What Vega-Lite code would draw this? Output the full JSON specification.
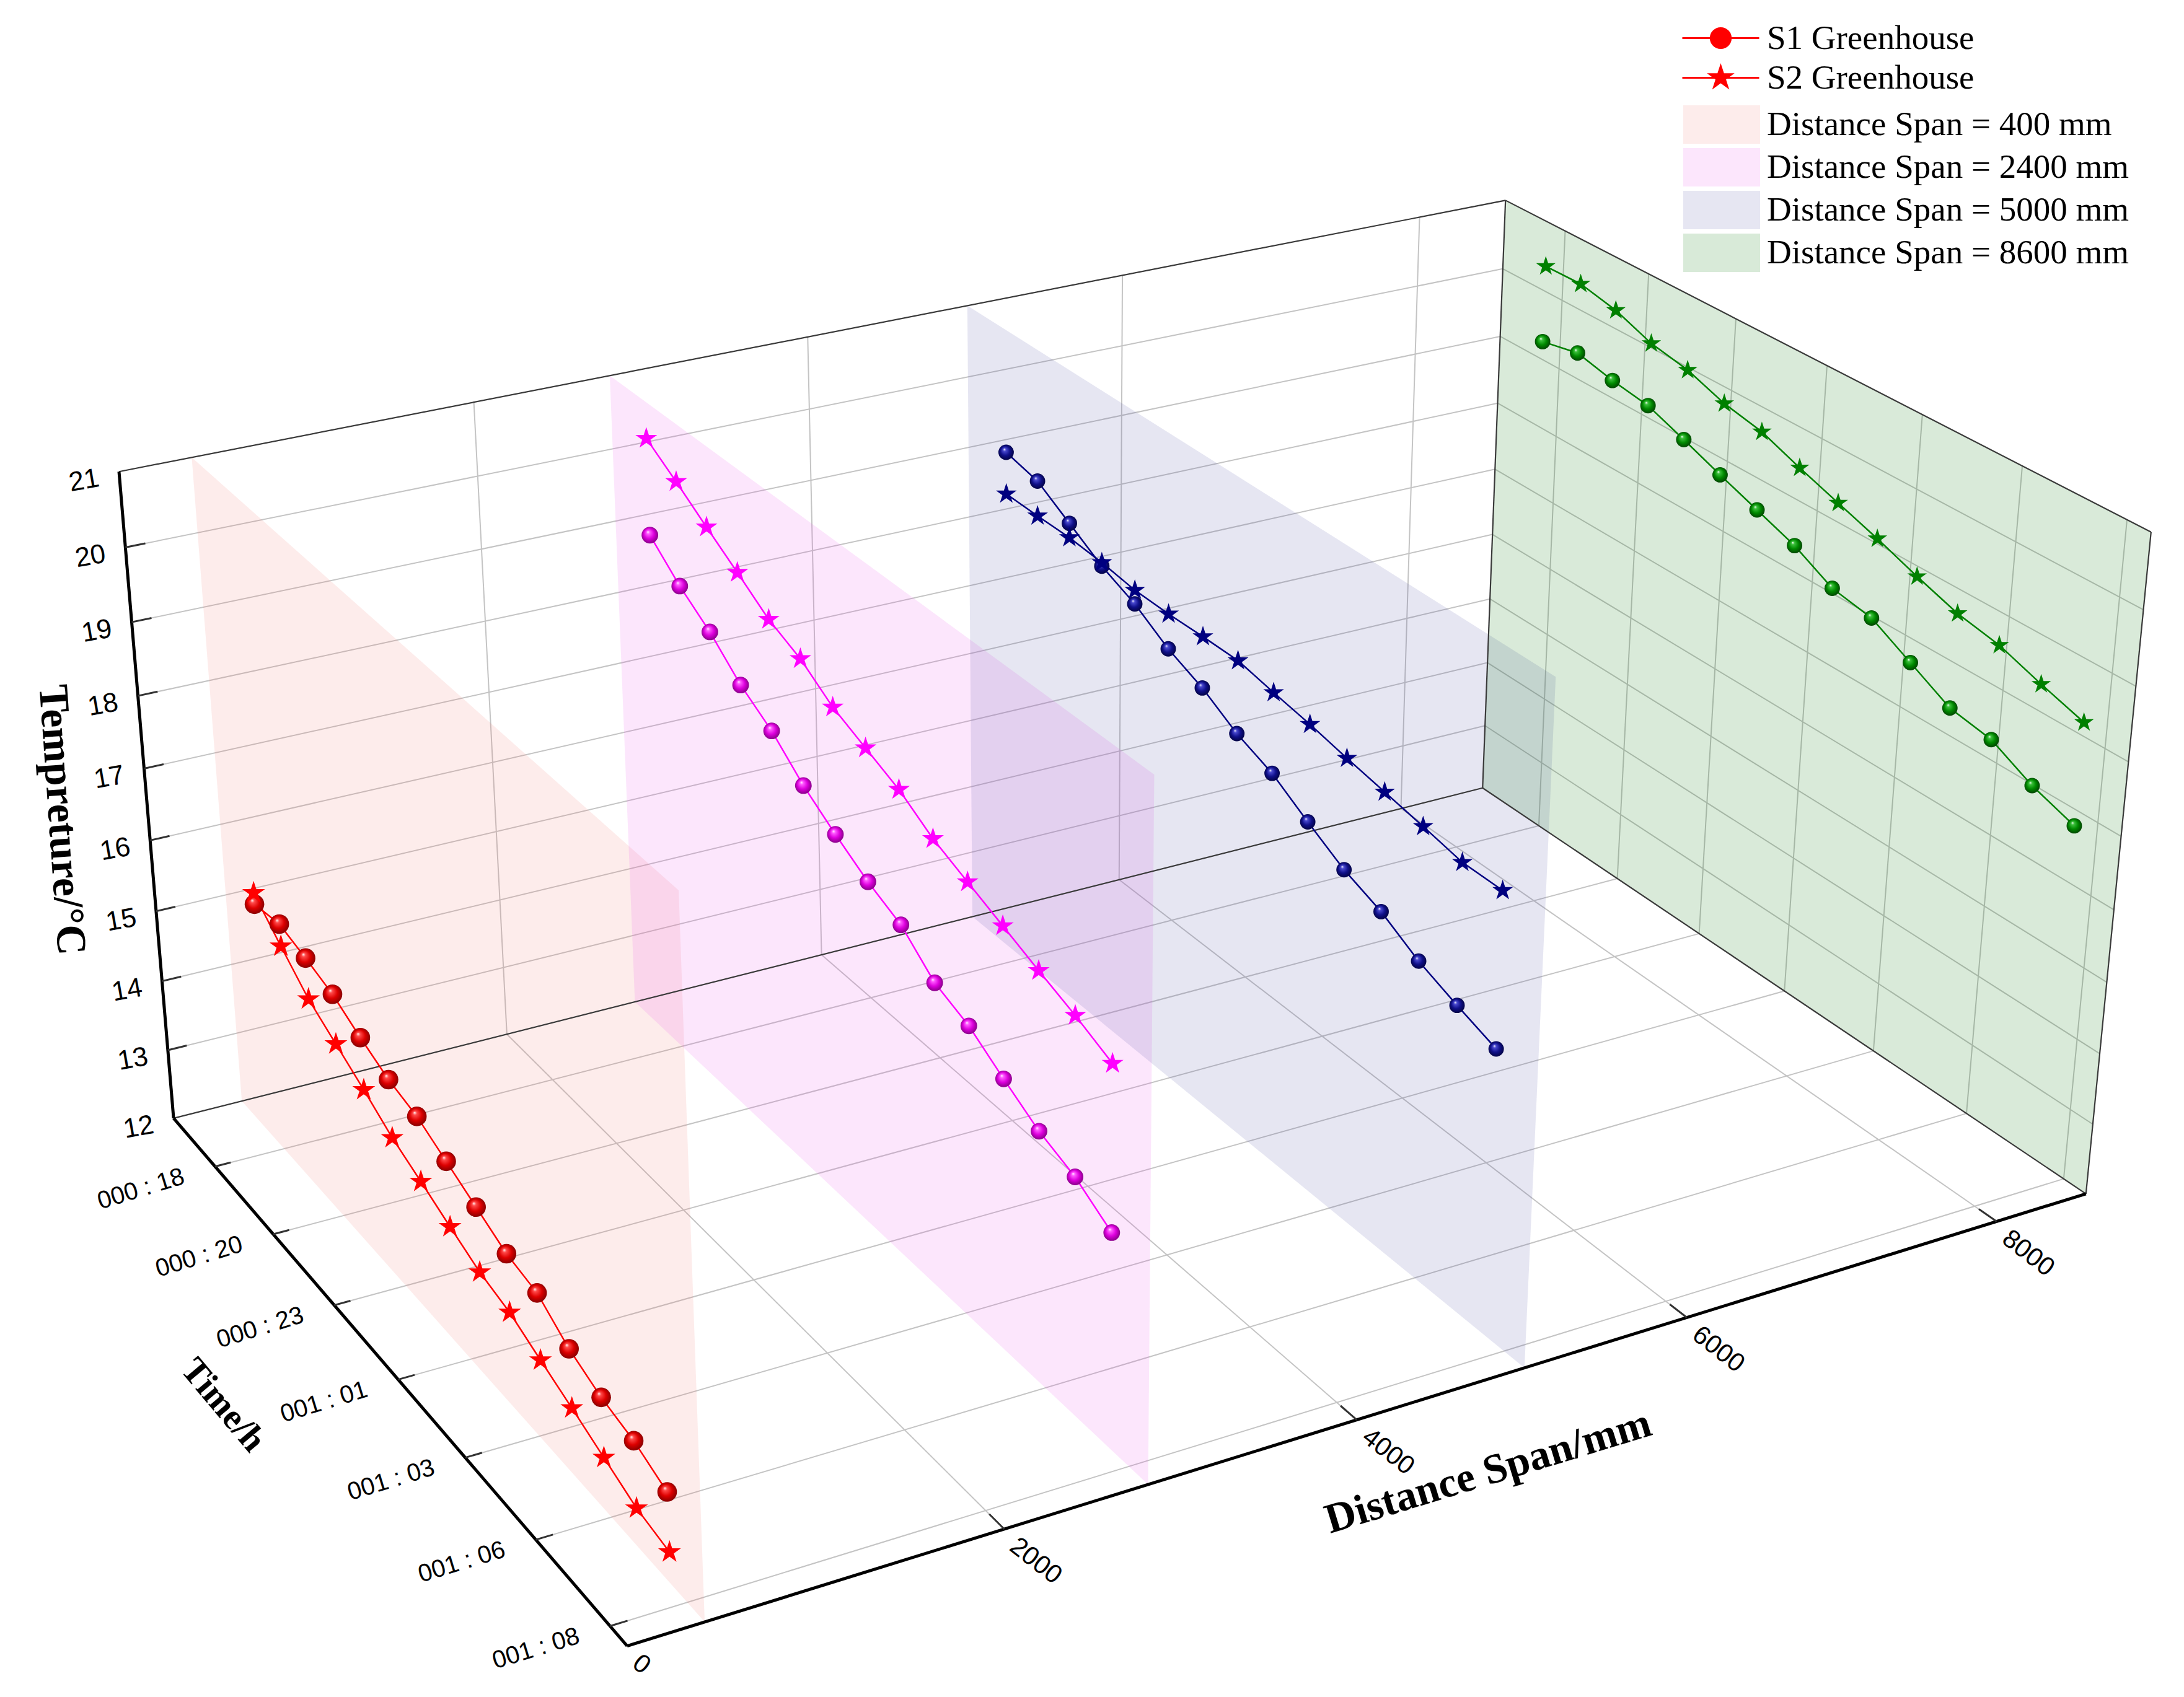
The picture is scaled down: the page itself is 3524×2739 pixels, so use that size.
{
  "$schema": "https://vega.github.io/schema/vega-lite/v6.json",
  "width": 3524,
  "height": 2739,
  "autosize": {"type": "fit", "contains": "padding"},
  "padding": 0,
  "background": "#ffffff",
  "config": {"view": {"stroke": null}},
  "data": {
    "values": [
      {"k":"g","d":0,"t":16.77,"T":13,"d2":8600,"t2":16.77,"T2":13},
      {"k":"g","d":0,"t":16.77,"T":14,"d2":8600,"t2":16.77,"T2":14},
      {"k":"g","d":0,"t":16.77,"T":15,"d2":8600,"t2":16.77,"T2":15},
      {"k":"g","d":0,"t":16.77,"T":16,"d2":8600,"t2":16.77,"T2":16},
      {"k":"g","d":0,"t":16.77,"T":17,"d2":8600,"t2":16.77,"T2":17},
      {"k":"g","d":0,"t":16.77,"T":18,"d2":8600,"t2":16.77,"T2":18},
      {"k":"g","d":0,"t":16.77,"T":19,"d2":8600,"t2":16.77,"T2":19},
      {"k":"g","d":0,"t":16.77,"T":20,"d2":8600,"t2":16.77,"T2":20},
      {"k":"g","d":2000,"t":16.77,"T":12,"d2":2000,"t2":16.77,"T2":21},
      {"k":"g","d":4000,"t":16.77,"T":12,"d2":4000,"t2":16.77,"T2":21},
      {"k":"g","d":6000,"t":16.77,"T":12,"d2":6000,"t2":16.77,"T2":21},
      {"k":"g","d":8000,"t":16.77,"T":12,"d2":8000,"t2":16.77,"T2":21},
      {"k":"g","d":8600,"t":16.77,"T":13,"d2":8600,"t2":33.02,"T2":13},
      {"k":"g","d":8600,"t":16.77,"T":14,"d2":8600,"t2":33.02,"T2":14},
      {"k":"g","d":8600,"t":16.77,"T":15,"d2":8600,"t2":33.02,"T2":15},
      {"k":"g","d":8600,"t":16.77,"T":16,"d2":8600,"t2":33.02,"T2":16},
      {"k":"g","d":8600,"t":16.77,"T":17,"d2":8600,"t2":33.02,"T2":17},
      {"k":"g","d":8600,"t":16.77,"T":18,"d2":8600,"t2":33.02,"T2":18},
      {"k":"g","d":8600,"t":16.77,"T":19,"d2":8600,"t2":33.02,"T2":19},
      {"k":"g","d":8600,"t":16.77,"T":20,"d2":8600,"t2":33.02,"T2":20},
      {"k":"g","d":8600,"t":18.5,"T":12,"d2":8600,"t2":18.5,"T2":21},
      {"k":"g","d":8600,"t":20.833,"T":12,"d2":8600,"t2":20.833,"T2":21},
      {"k":"g","d":8600,"t":23.167,"T":12,"d2":8600,"t2":23.167,"T2":21},
      {"k":"g","d":8600,"t":25.5,"T":12,"d2":8600,"t2":25.5,"T2":21},
      {"k":"g","d":8600,"t":27.833,"T":12,"d2":8600,"t2":27.833,"T2":21},
      {"k":"g","d":8600,"t":30.167,"T":12,"d2":8600,"t2":30.167,"T2":21},
      {"k":"g","d":8600,"t":32.5,"T":12,"d2":8600,"t2":32.5,"T2":21},
      {"k":"g","d":0,"t":18.5,"T":12,"d2":8600,"t2":18.5,"T2":12},
      {"k":"g","d":0,"t":20.833,"T":12,"d2":8600,"t2":20.833,"T2":12},
      {"k":"g","d":0,"t":23.167,"T":12,"d2":8600,"t2":23.167,"T2":12},
      {"k":"g","d":0,"t":25.5,"T":12,"d2":8600,"t2":25.5,"T2":12},
      {"k":"g","d":0,"t":27.833,"T":12,"d2":8600,"t2":27.833,"T2":12},
      {"k":"g","d":0,"t":30.167,"T":12,"d2":8600,"t2":30.167,"T2":12},
      {"k":"g","d":0,"t":32.5,"T":12,"d2":8600,"t2":32.5,"T2":12},
      {"k":"g","d":2000,"t":16.77,"T":12,"d2":2000,"t2":33.02,"T2":12},
      {"k":"g","d":4000,"t":16.77,"T":12,"d2":4000,"t2":33.02,"T2":12},
      {"k":"g","d":6000,"t":16.77,"T":12,"d2":6000,"t2":33.02,"T2":12},
      {"k":"g","d":8000,"t":16.77,"T":12,"d2":8000,"t2":33.02,"T2":12},

      {"k":"e","d":0,"t":16.77,"T":21,"d2":8600,"t2":16.77,"T2":21},
      {"k":"e","d":0,"t":16.77,"T":12,"d2":8600,"t2":16.77,"T2":12},
      {"k":"e","d":8600,"t":16.77,"T":12,"d2":8600,"t2":16.77,"T2":21},
      {"k":"e","d":8600,"t":16.77,"T":21,"d2":8600,"t2":33.02,"T2":21},
      {"k":"e","d":8600,"t":16.77,"T":12,"d2":8600,"t2":33.02,"T2":12},
      {"k":"e","d":8600,"t":33.02,"T":12,"d2":8600,"t2":33.02,"T2":21},

      {"k":"a","d":0,"t":16.77,"T":12,"d2":0,"t2":16.77,"T2":21},
      {"k":"a","d":0,"t":16.77,"T":12,"d2":0,"t2":33.02,"T2":12},
      {"k":"a","d":0,"t":33.02,"T":12,"d2":8600,"t2":33.02,"T2":12},

      {"k":"tk","d":0,"t":16.77,"T":13,"d2":110,"t2":16.77,"T2":13},
      {"k":"tk","d":0,"t":16.77,"T":14,"d2":110,"t2":16.77,"T2":14},
      {"k":"tk","d":0,"t":16.77,"T":15,"d2":110,"t2":16.77,"T2":15},
      {"k":"tk","d":0,"t":16.77,"T":16,"d2":110,"t2":16.77,"T2":16},
      {"k":"tk","d":0,"t":16.77,"T":17,"d2":110,"t2":16.77,"T2":17},
      {"k":"tk","d":0,"t":16.77,"T":18,"d2":110,"t2":16.77,"T2":18},
      {"k":"tk","d":0,"t":16.77,"T":19,"d2":110,"t2":16.77,"T2":19},
      {"k":"tk","d":0,"t":16.77,"T":20,"d2":110,"t2":16.77,"T2":20},
      {"k":"tk","d":0,"t":18.5,"T":12,"d2":90,"t2":18.5,"T2":12},
      {"k":"tk","d":0,"t":20.833,"T":12,"d2":90,"t2":20.833,"T2":12},
      {"k":"tk","d":0,"t":23.167,"T":12,"d2":90,"t2":23.167,"T2":12},
      {"k":"tk","d":0,"t":25.5,"T":12,"d2":90,"t2":25.5,"T2":12},
      {"k":"tk","d":0,"t":27.833,"T":12,"d2":90,"t2":27.833,"T2":12},
      {"k":"tk","d":0,"t":30.167,"T":12,"d2":90,"t2":30.167,"T2":12},
      {"k":"tk","d":0,"t":32.5,"T":12,"d2":90,"t2":32.5,"T2":12},
      {"k":"tk","d":2000,"t":33.02,"T":12,"d2":2000,"t2":32.6,"T2":12},
      {"k":"tk","d":4000,"t":33.02,"T":12,"d2":4000,"t2":32.6,"T2":12},
      {"k":"tk","d":6000,"t":33.02,"T":12,"d2":6000,"t2":32.6,"T2":12},
      {"k":"tk","d":8000,"t":33.02,"T":12,"d2":8000,"t2":32.6,"T2":12},

      {"k":"p","sp":"400","d":400,"t":16.77,"T":12,"o":1},
      {"k":"p","sp":"400","d":400,"t":33.02,"T":12,"o":2},
      {"k":"p","sp":"400","d":400,"t":33.02,"T":21,"o":3},
      {"k":"p","sp":"400","d":400,"t":16.77,"T":21,"o":4},
      {"k":"p","sp":"2400","d":2800,"t":16.77,"T":12,"o":1},
      {"k":"p","sp":"2400","d":2800,"t":33.02,"T":12,"o":2},
      {"k":"p","sp":"2400","d":2800,"t":33.02,"T":21,"o":3},
      {"k":"p","sp":"2400","d":2800,"t":16.77,"T":21,"o":4},
      {"k":"p","sp":"5000","d":5000,"t":16.77,"T":12,"o":1},
      {"k":"p","sp":"5000","d":5000,"t":33.02,"T":12,"o":2},
      {"k":"p","sp":"5000","d":5000,"t":33.02,"T":21,"o":3},
      {"k":"p","sp":"5000","d":5000,"t":16.77,"T":21,"o":4},
      {"k":"p","sp":"8600","d":8600,"t":16.77,"T":12,"o":1},
      {"k":"p","sp":"8600","d":8600,"t":33.02,"T":12,"o":2},
      {"k":"p","sp":"8600","d":8600,"t":33.02,"T":21,"o":3},
      {"k":"p","sp":"8600","d":8600,"t":16.77,"T":21,"o":4},

      {"k":"s","sp":"400","g":"S1","d":400,"t":18,"T":15.32},
      {"k":"s","sp":"400","g":"S1","d":400,"t":19,"T":15.41},
      {"k":"s","sp":"400","g":"S1","d":400,"t":20,"T":15.31},
      {"k":"s","sp":"400","g":"S1","d":400,"t":21,"T":15.19},
      {"k":"s","sp":"400","g":"S1","d":400,"t":22,"T":14.98},
      {"k":"s","sp":"400","g":"S1","d":400,"t":23,"T":14.80},
      {"k":"s","sp":"400","g":"S1","d":400,"t":24,"T":14.70},
      {"k":"s","sp":"400","g":"S1","d":400,"t":25,"T":14.50},
      {"k":"s","sp":"400","g":"S1","d":400,"t":26,"T":14.30},
      {"k":"s","sp":"400","g":"S1","d":400,"t":27,"T":14.10},
      {"k":"s","sp":"400","g":"S1","d":400,"t":28,"T":14.01},
      {"k":"s","sp":"400","g":"S1","d":400,"t":29,"T":13.71},
      {"k":"s","sp":"400","g":"S1","d":400,"t":30,"T":13.52},
      {"k":"s","sp":"400","g":"S1","d":400,"t":31,"T":13.41},
      {"k":"s","sp":"400","g":"S1","d":400,"t":32,"T":13.21},
      {"k":"s","sp":"400","g":"S2","d":400,"t":18,"T":15.48},
      {"k":"s","sp":"400","g":"S2","d":400,"t":19,"T":15.10},
      {"k":"s","sp":"400","g":"S2","d":400,"t":20,"T":14.74},
      {"k":"s","sp":"400","g":"S2","d":400,"t":21,"T":14.50},
      {"k":"s","sp":"400","g":"S2","d":400,"t":22,"T":14.26},
      {"k":"s","sp":"400","g":"S2","d":400,"t":23,"T":14.00},
      {"k":"s","sp":"400","g":"S2","d":400,"t":24,"T":13.81},
      {"k":"s","sp":"400","g":"S2","d":400,"t":25,"T":13.61},
      {"k":"s","sp":"400","g":"S2","d":400,"t":26,"T":13.42},
      {"k":"s","sp":"400","g":"S2","d":400,"t":27,"T":13.31},
      {"k":"s","sp":"400","g":"S2","d":400,"t":28,"T":13.11},
      {"k":"s","sp":"400","g":"S2","d":400,"t":29,"T":12.92},
      {"k":"s","sp":"400","g":"S2","d":400,"t":30,"T":12.72},
      {"k":"s","sp":"400","g":"S2","d":400,"t":31,"T":12.52},
      {"k":"s","sp":"400","g":"S2","d":400,"t":32,"T":12.42},

      {"k":"s","sp":"2400","g":"S1","d":2800,"t":18,"T":19.18},
      {"k":"s","sp":"2400","g":"S1","d":2800,"t":19,"T":18.79},
      {"k":"s","sp":"2400","g":"S1","d":2800,"t":20,"T":18.48},
      {"k":"s","sp":"2400","g":"S1","d":2800,"t":21,"T":18.08},
      {"k":"s","sp":"2400","g":"S1","d":2800,"t":22,"T":17.79},
      {"k":"s","sp":"2400","g":"S1","d":2800,"t":23,"T":17.39},
      {"k":"s","sp":"2400","g":"S1","d":2800,"t":24,"T":17.08},
      {"k":"s","sp":"2400","g":"S1","d":2800,"t":25,"T":16.80},
      {"k":"s","sp":"2400","g":"S1","d":2800,"t":26,"T":16.59},
      {"k":"s","sp":"2400","g":"S1","d":2800,"t":27,"T":16.19},
      {"k":"s","sp":"2400","g":"S1","d":2800,"t":28,"T":16.00},
      {"k":"s","sp":"2400","g":"S1","d":2800,"t":29,"T":15.69},
      {"k":"s","sp":"2400","g":"S1","d":2800,"t":30,"T":15.40},
      {"k":"s","sp":"2400","g":"S1","d":2800,"t":31,"T":15.21},
      {"k":"s","sp":"2400","g":"S1","d":2800,"t":32,"T":14.90},
      {"k":"s","sp":"2400","g":"S2","d":2800,"t":18,"T":20.50},
      {"k":"s","sp":"2400","g":"S2","d":2800,"t":19,"T":20.21},
      {"k":"s","sp":"2400","g":"S2","d":2800,"t":20,"T":19.90},
      {"k":"s","sp":"2400","g":"S2","d":2800,"t":21,"T":19.60},
      {"k":"s","sp":"2400","g":"S2","d":2800,"t":22,"T":19.29},
      {"k":"s","sp":"2400","g":"S2","d":2800,"t":23,"T":19.09},
      {"k":"s","sp":"2400","g":"S2","d":2800,"t":24,"T":18.78},
      {"k":"s","sp":"2400","g":"S2","d":2800,"t":25,"T":18.58},
      {"k":"s","sp":"2400","g":"S2","d":2800,"t":26,"T":18.38},
      {"k":"s","sp":"2400","g":"S2","d":2800,"t":27,"T":18.09},
      {"k":"s","sp":"2400","g":"S2","d":2800,"t":28,"T":17.89},
      {"k":"s","sp":"2400","g":"S2","d":2800,"t":29,"T":17.69},
      {"k":"s","sp":"2400","g":"S2","d":2800,"t":30,"T":17.49},
      {"k":"s","sp":"2400","g":"S2","d":2800,"t":31,"T":17.30},
      {"k":"s","sp":"2400","g":"S2","d":2800,"t":32,"T":17.08},

      {"k":"s","sp":"5000","g":"S1","d":5000,"t":18,"T":19.29},
      {"k":"s","sp":"5000","g":"S1","d":5000,"t":19,"T":19.18},
      {"k":"s","sp":"5000","g":"S1","d":5000,"t":20,"T":18.89},
      {"k":"s","sp":"5000","g":"S1","d":5000,"t":21,"T":18.60},
      {"k":"s","sp":"5000","g":"S1","d":5000,"t":22,"T":18.39},
      {"k":"s","sp":"5000","g":"S1","d":5000,"t":23,"T":18.09},
      {"k":"s","sp":"5000","g":"S1","d":5000,"t":24,"T":17.88},
      {"k":"s","sp":"5000","g":"S1","d":5000,"t":25,"T":17.59},
      {"k":"s","sp":"5000","g":"S1","d":5000,"t":26,"T":17.39},
      {"k":"s","sp":"5000","g":"S1","d":5000,"t":27,"T":17.08},
      {"k":"s","sp":"5000","g":"S1","d":5000,"t":28,"T":16.79},
      {"k":"s","sp":"5000","g":"S1","d":5000,"t":29,"T":16.59},
      {"k":"s","sp":"5000","g":"S1","d":5000,"t":30,"T":16.30},
      {"k":"s","sp":"5000","g":"S1","d":5000,"t":31,"T":16.09},
      {"k":"s","sp":"5000","g":"S1","d":5000,"t":32,"T":15.90},
      {"k":"s","sp":"5000","g":"S2","d":5000,"t":18,"T":18.70},
      {"k":"s","sp":"5000","g":"S2","d":5000,"t":19,"T":18.69},
      {"k":"s","sp":"5000","g":"S2","d":5000,"t":20,"T":18.69},
      {"k":"s","sp":"5000","g":"S2","d":5000,"t":21,"T":18.65},
      {"k":"s","sp":"5000","g":"S2","d":5000,"t":22,"T":18.58},
      {"k":"s","sp":"5000","g":"S2","d":5000,"t":23,"T":18.57},
      {"k":"s","sp":"5000","g":"S2","d":5000,"t":24,"T":18.58},
      {"k":"s","sp":"5000","g":"S2","d":5000,"t":25,"T":18.58},
      {"k":"s","sp":"5000","g":"S2","d":5000,"t":26,"T":18.48},
      {"k":"s","sp":"5000","g":"S2","d":5000,"t":27,"T":18.39},
      {"k":"s","sp":"5000","g":"S2","d":5000,"t":28,"T":18.28},
      {"k":"s","sp":"5000","g":"S2","d":5000,"t":29,"T":18.18},
      {"k":"s","sp":"5000","g":"S2","d":5000,"t":30,"T":18.08},
      {"k":"s","sp":"5000","g":"S2","d":5000,"t":31,"T":17.97},
      {"k":"s","sp":"5000","g":"S2","d":5000,"t":32,"T":17.97},

      {"k":"s","sp":"8600","g":"S1","d":8600,"t":18,"T":19.26},
      {"k":"s","sp":"8600","g":"S1","d":8600,"t":19,"T":19.37},
      {"k":"s","sp":"8600","g":"S1","d":8600,"t":20,"T":19.25},
      {"k":"s","sp":"8600","g":"S1","d":8600,"t":21,"T":19.17},
      {"k":"s","sp":"8600","g":"S1","d":8600,"t":22,"T":18.97},
      {"k":"s","sp":"8600","g":"S1","d":8600,"t":23,"T":18.76},
      {"k":"s","sp":"8600","g":"S1","d":8600,"t":24,"T":18.56},
      {"k":"s","sp":"8600","g":"S1","d":8600,"t":25,"T":18.36},
      {"k":"s","sp":"8600","g":"S1","d":8600,"t":26,"T":18.07},
      {"k":"s","sp":"8600","g":"S1","d":8600,"t":27,"T":17.97},
      {"k":"s","sp":"8600","g":"S1","d":8600,"t":28,"T":17.67},
      {"k":"s","sp":"8600","g":"S1","d":8600,"t":29,"T":17.37},
      {"k":"s","sp":"8600","g":"S1","d":8600,"t":30,"T":17.27},
      {"k":"s","sp":"8600","g":"S1","d":8600,"t":31,"T":16.98},
      {"k":"s","sp":"8600","g":"S1","d":8600,"t":32,"T":16.78},
      {"k":"s","sp":"8600","g":"S2","d":8600,"t":18,"T":20.36},
      {"k":"s","sp":"8600","g":"S2","d":8600,"t":19,"T":20.37},
      {"k":"s","sp":"8600","g":"S2","d":8600,"t":20,"T":20.26},
      {"k":"s","sp":"8600","g":"S2","d":8600,"t":21,"T":20.06},
      {"k":"s","sp":"8600","g":"S2","d":8600,"t":22,"T":19.96},
      {"k":"s","sp":"8600","g":"S2","d":8600,"t":23,"T":19.77},
      {"k":"s","sp":"8600","g":"S2","d":8600,"t":24,"T":19.66},
      {"k":"s","sp":"8600","g":"S2","d":8600,"t":25,"T":19.45},
      {"k":"s","sp":"8600","g":"S2","d":8600,"t":26,"T":19.26},
      {"k":"s","sp":"8600","g":"S2","d":8600,"t":27,"T":19.07},
      {"k":"s","sp":"8600","g":"S2","d":8600,"t":28,"T":18.86},
      {"k":"s","sp":"8600","g":"S2","d":8600,"t":29,"T":18.67},
      {"k":"s","sp":"8600","g":"S2","d":8600,"t":30,"T":18.56},
      {"k":"s","sp":"8600","g":"S2","d":8600,"t":31,"T":18.36},
      {"k":"s","sp":"8600","g":"S2","d":8600,"t":32,"T":18.18},

      {"k":"tl","d":0,"t":16.77,"T":12,"lab":"12"},
      {"k":"tl","d":0,"t":16.77,"T":13,"lab":"13"},
      {"k":"tl","d":0,"t":16.77,"T":14,"lab":"14"},
      {"k":"tl","d":0,"t":16.77,"T":15,"lab":"15"},
      {"k":"tl","d":0,"t":16.77,"T":16,"lab":"16"},
      {"k":"tl","d":0,"t":16.77,"T":17,"lab":"17"},
      {"k":"tl","d":0,"t":16.77,"T":18,"lab":"18"},
      {"k":"tl","d":0,"t":16.77,"T":19,"lab":"19"},
      {"k":"tl","d":0,"t":16.77,"T":20,"lab":"20"},
      {"k":"tl","d":0,"t":16.77,"T":21,"lab":"21"},

      {"k":"hl","d":0,"t":18.5,"T":12,"lab":"000 : 18"},
      {"k":"hl","d":0,"t":20.833,"T":12,"lab":"000 : 20"},
      {"k":"hl","d":0,"t":23.167,"T":12,"lab":"000 : 23"},
      {"k":"hl","d":0,"t":25.5,"T":12,"lab":"001 : 01"},
      {"k":"hl","d":0,"t":27.833,"T":12,"lab":"001 : 03"},
      {"k":"hl","d":0,"t":30.167,"T":12,"lab":"001 : 06"},
      {"k":"hl","d":0,"t":32.5,"T":12,"lab":"001 : 08"},

      {"k":"dl","d":0,"t":33.02,"T":12,"lab":"0"},
      {"k":"dl","d":2000,"t":33.02,"T":12,"lab":"2000"},
      {"k":"dl","d":4000,"t":33.02,"T":12,"lab":"4000"},
      {"k":"dl","d":6000,"t":33.02,"T":12,"lab":"6000"},
      {"k":"dl","d":8000,"t":33.02,"T":12,"lab":"8000"},

      {"k":"ti","d":0,"t":16.77,"T":16.5,"lab":"Tempreture/°C"},
      {"k":"ti","d":0,"t":24.895,"T":12,"lab":"Time/h"},
      {"k":"ti","d":5000,"t":33.02,"T":12,"lab":"Distance Span/mm"}
    ]
  },
  "transform": [
    {"calculate": "1 + 0.1272*datum.d/8600 - 0.1553*(datum.t-16.77)/16.25 - 0.058*(datum.T-12)/9", "as": "q"},
    {"calculate": "(124 + 1069.7*datum.d/8600 + 254.4*(datum.t-16.77)/16.25 - 43.93*(datum.T-12)/9)/datum.q", "as": "px"},
    {"calculate": "(799 - 164.4*datum.d/8600 + 194.4*(datum.t-16.77)/16.25 - 481.55*(datum.T-12)/9)/datum.q", "as": "py"},
    {"calculate": "1 + 0.1272*datum.d2/8600 - 0.1553*(datum.t2-16.77)/16.25 - 0.058*(datum.T2-12)/9", "as": "q2"},
    {"calculate": "(124 + 1069.7*datum.d2/8600 + 254.4*(datum.t2-16.77)/16.25 - 43.93*(datum.T2-12)/9)/datum.q2", "as": "px2"},
    {"calculate": "(799 - 164.4*datum.d2/8600 + 194.4*(datum.t2-16.77)/16.25 - 481.55*(datum.T2-12)/9)/datum.q2", "as": "py2"}
  ],
  "encoding": {
    "x": {"field": "px", "type": "quantitative", "scale": {"domain": [0, 1560], "nice": false, "zero": false}, "axis": null},
    "y": {"field": "py", "type": "quantitative", "scale": {"domain": [0, 1212.5], "nice": false, "zero": false, "reverse": true}, "axis": null}
  },
  "layer": [
    {
      "transform": [{"filter": "datum.k == 'g'"}],
      "mark": {"type": "rule", "color": "#c4c4c4", "strokeWidth": 2},
      "encoding": {"x2": {"field": "px2"}, "y2": {"field": "py2"}}
    },
    {
      "transform": [{"filter": "datum.k == 'p'"}],
      "mark": {"type": "line", "interpolate": "linear-closed", "strokeOpacity": 0, "strokeWidth": 0, "fillOpacity": 0.15},
      "encoding": {
        "order": {"field": "o", "type": "quantitative"},
        "detail": {"field": "sp"},
        "fill": {
          "field": "sp", "type": "nominal",
          "scale": {"domain": ["400", "2400", "5000", "8600"], "range": ["#f28079", "#eb58eb", "#5858a8", "#007300"]},
          "legend": null
        }
      }
    },
    {
      "transform": [{"filter": "datum.k == 'e'"}],
      "mark": {"type": "rule", "color": "#3a3a3a", "strokeWidth": 2.2},
      "encoding": {"x2": {"field": "px2"}, "y2": {"field": "py2"}}
    },
    {
      "transform": [{"filter": "datum.k == 'a'"}],
      "mark": {"type": "rule", "color": "#000000", "strokeWidth": 5},
      "encoding": {"x2": {"field": "px2"}, "y2": {"field": "py2"}}
    },
    {
      "transform": [{"filter": "datum.k == 'tk'"}],
      "mark": {"type": "rule", "color": "#333333", "strokeWidth": 3},
      "encoding": {"x2": {"field": "px2"}, "y2": {"field": "py2"}}
    },
    {
      "transform": [{"filter": "datum.k == 's'"}],
      "mark": {"type": "line", "strokeWidth": 2.5},
      "encoding": {
        "color": {"field": "sp", "type": "nominal", "scale": {"domain": ["400", "2400", "5000", "8600"], "range": ["#ff0000", "#ff00ff", "#000080", "#008000"]}, "legend": null},
        "detail": {"field": "g"},
        "order": {"field": "t", "type": "quantitative"}
      }
    },
    {
      "transform": [{"filter": "datum.k == 's' && datum.g == 'S1' && datum.sp == '400'"}],
      "mark": {"type": "point", "shape": "circle", "filled": true, "opacity": 1, "size": 1000, "strokeWidth": 0,
        "fill": {"gradient": "radial", "x1": 0.38, "y1": 0.3, "r1": 0, "x2": 0.5, "y2": 0.5, "r2": 0.55,
          "stops": [{"offset": 0, "color": "#ffffff"}, {"offset": 0.18, "color": "#ff4a4a"}, {"offset": 0.55, "color": "#dd0000"}, {"offset": 1, "color": "#7a0000"}]}}
    },
    {
      "transform": [{"filter": "datum.k == 's' && datum.g == 'S1' && datum.sp == '2400'"}],
      "mark": {"type": "point", "shape": "circle", "filled": true, "opacity": 1, "size": 720, "strokeWidth": 0,
        "fill": {"gradient": "radial", "x1": 0.38, "y1": 0.3, "r1": 0, "x2": 0.5, "y2": 0.5, "r2": 0.55,
          "stops": [{"offset": 0, "color": "#ffffff"}, {"offset": 0.18, "color": "#ff5cff"}, {"offset": 0.55, "color": "#dd00dd"}, {"offset": 1, "color": "#7a007a"}]}}
    },
    {
      "transform": [{"filter": "datum.k == 's' && datum.g == 'S1' && datum.sp == '5000'"}],
      "mark": {"type": "point", "shape": "circle", "filled": true, "opacity": 1, "size": 620, "strokeWidth": 0,
        "fill": {"gradient": "radial", "x1": 0.38, "y1": 0.3, "r1": 0, "x2": 0.5, "y2": 0.5, "r2": 0.55,
          "stops": [{"offset": 0, "color": "#ffffff"}, {"offset": 0.18, "color": "#4a4ad0"}, {"offset": 0.55, "color": "#10108a"}, {"offset": 1, "color": "#00003a"}]}}
    },
    {
      "transform": [{"filter": "datum.k == 's' && datum.g == 'S1' && datum.sp == '8600'"}],
      "mark": {"type": "point", "shape": "circle", "filled": true, "opacity": 1, "size": 620, "strokeWidth": 0,
        "fill": {"gradient": "radial", "x1": 0.38, "y1": 0.3, "r1": 0, "x2": 0.5, "y2": 0.5, "r2": 0.55,
          "stops": [{"offset": 0, "color": "#ffffff"}, {"offset": 0.18, "color": "#3cc03c"}, {"offset": 0.55, "color": "#008a00"}, {"offset": 1, "color": "#003a00"}]}}
    },
    {
      "transform": [{"filter": "datum.k == 's' && datum.g == 'S2'"}],
      "mark": {"type": "point", "filled": true, "opacity": 1, "strokeWidth": 0,
        "shape": "M0,-1L0.2245,-0.309L0.9511,-0.309L0.3633,0.118L0.5878,0.809L0,0.382L-0.5878,0.809L-0.3633,0.118L-0.9511,-0.309L-0.2245,-0.309Z"},
      "encoding": {
        "color": {"field": "sp", "type": "nominal", "scale": {"domain": ["400", "2400", "5000", "8600"], "range": ["#ff0000", "#ff00ff", "#000080", "#008000"]}, "legend": null},
        "size": {"field": "sp", "type": "nominal", "scale": {"domain": ["400", "2400", "5000", "8600"], "range": [1500, 1100, 850, 850]}, "legend": null}
      }
    },
    {
      "transform": [{"filter": "datum.k == 'tl'"}],
      "mark": {"type": "text", "font": "Liberation Sans", "fontSize": 44, "color": "#000000", "align": "center", "baseline": "middle", "angle": -10, "dx": -58, "dy": 5},
      "encoding": {"text": {"field": "lab"}}
    },
    {
      "transform": [{"filter": "datum.k == 'hl'"}],
      "mark": {"type": "text", "font": "Liberation Sans", "fontSize": 40, "color": "#000000", "align": "center", "baseline": "middle", "angle": -17, "dx": -125, "dy": 0},
      "encoding": {"text": {"field": "lab"}}
    },
    {
      "transform": [{"filter": "datum.k == 'dl'"}],
      "mark": {"type": "text", "font": "Liberation Sans", "fontSize": 42, "color": "#000000", "align": "left", "baseline": "middle", "angle": 38, "dx": 25, "dy": 9},
      "encoding": {"text": {"field": "lab"}}
    },
    {
      "transform": [{"filter": "datum.k == 'ti' && datum.lab == 'Tempreture/°C'"}],
      "mark": {"type": "text", "font": "Liberation Serif", "fontWeight": "bold", "fontSize": 68, "color": "#000000", "align": "center", "baseline": "middle", "angle": 86, "dx": 15, "dy": 140},
      "encoding": {"text": {"field": "lab"}}
    },
    {
      "transform": [{"filter": "datum.k == 'ti' && datum.lab == 'Time/h'"}],
      "mark": {"type": "text", "font": "Liberation Serif", "fontWeight": "bold", "fontSize": 58, "color": "#000000", "align": "center", "baseline": "middle", "angle": 50, "dx": -108, "dy": 243},
      "encoding": {"text": {"field": "lab"}}
    },
    {
      "transform": [{"filter": "datum.k == 'ti' && datum.lab == 'Distance Span/mm'"}],
      "mark": {"type": "text", "font": "Liberation Serif", "fontWeight": "bold", "fontSize": 68, "color": "#000000", "align": "center", "baseline": "middle", "angle": -17, "dx": -105, "dy": 144},
      "encoding": {"text": {"field": "lab"}}
    },
    {
      "transform": [{"filter": "datum.k == 's'"}],
      "mark": {"type": "point", "filled": false, "color": "#ff0000", "fill": "#ff0000", "opacity": 1, "size": 0, "strokeWidth": 3},
      "encoding": {
        "shape": {
          "field": "g", "type": "nominal",
          "scale": {"domain": ["S1", "S2"], "range": [
            "M-2,0L2,0M0.52,0A0.52,0.52,0,1,1,-0.52,0A0.52,0.52,0,1,1,0.52,0Z",
            "M-2,0L2,0M0,-0.6L0.1347,-0.1854L0.5706,-0.1854L0.218,0.0708L0.3527,0.4854L0,0.2292L-0.3527,0.4854L-0.218,0.0708L-0.5706,-0.1854L-0.1347,-0.1854Z"
          ]},
          "legend": {
            "orient": "none", "legendX": 2744, "legendY": 29, "title": null, "padding": 0,
            "symbolSize": 3844, "symbolStrokeWidth": 3,
            "labelFont": "Liberation Serif", "labelFontSize": 55, "labelColor": "#000000", "labelOffset": 42,
            "rowPadding": 3, "labelLimit": 2000, "labelExpr": "datum.label + ' Greenhouse'"
          }
        }
      }
    },
    {
      "transform": [{"filter": "datum.k == 'p'"}],
      "mark": {"type": "point", "filled": true, "opacity": 1, "size": 0},
      "encoding": {
        "fill": {
          "field": "sp", "type": "nominal",
          "scale": {"domain": ["400", "2400", "5000", "8600"], "range": ["#fdeceb", "#fce6fc", "#e6e6f2", "#d8ead8"]},
          "legend": {
            "orient": "none", "legendX": 2747, "legendY": 170, "title": null, "padding": 0,
            "symbolType": "M-2,-1H2V1H-2Z", "symbolSize": 3844, "symbolStrokeWidth": 0, "symbolOpacity": 1,
            "labelFont": "Liberation Serif", "labelFontSize": 55, "labelColor": "#000000", "labelOffset": 42,
            "rowPadding": 7, "labelLimit": 2000, "labelExpr": "'Distance Span = ' + datum.label + ' mm'"
          }
        }
      }
    }
  ],
  "resolve": {"scale": {"fill": "independent"}}
}
